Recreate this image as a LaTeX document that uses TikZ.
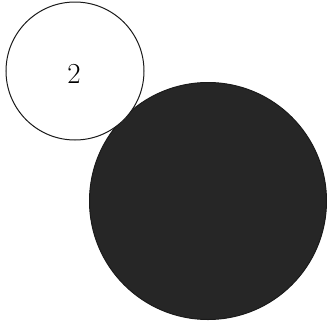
\documentclass[tikz,border=0pt]{standalone}
\usepackage{tikz}
\usetikzlibrary{positioning}
\definecolor{Ink}{HTML}{1A1A1A}
\definecolor{Soot}{HTML}{262626}

\begin{document}
\begin{tikzpicture}[x=1pt,y=-1pt]
    \useasboundingbox (0,0) rectangle (327,325);
    \node[circle,draw=Ink,fill=Soot,line width=1pt,inner sep=0pt,minimum size=237pt] (bigdisc) at (208,201) {};
    \node[circle,draw=Ink,fill=white,line width=1pt,inner sep=0pt,minimum size=138pt] (smalldisc) at (75,71) {};
    \node[font=\fontsize{29}{34}\selectfont] (label) at (74,74) {2};
  \end{tikzpicture}
\end{document}
